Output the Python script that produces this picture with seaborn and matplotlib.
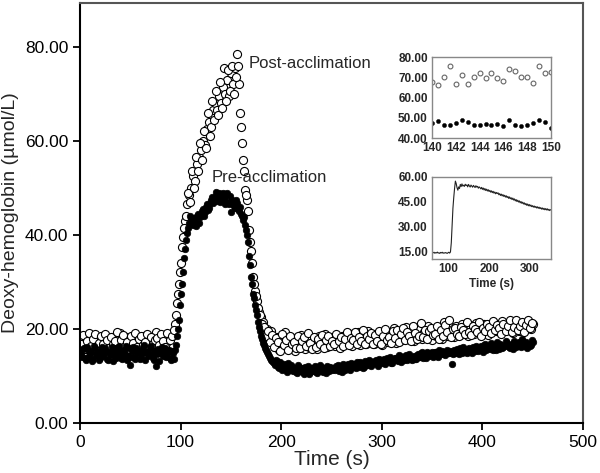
import numpy as np
import pandas as pd
import matplotlib
matplotlib.use("Agg")
import matplotlib.pyplot as plt
import seaborn as sns
from matplotlib.ticker import FormatStrFormatter

# tempo (s): segundos pares e impares
tempo_par = np.arange(0, 452, 2)
tempo_impar = np.arange(1, 451, 2)

# pos-aclimatacao (circulos abertos), segundos pares
pos_par = [
    18.5, 17.2, 16.4, 18.1, 17.6, 16.0, 18.8, 17.0, 16.6, 18.3,
    17.4, 16.2, 17.9, 18.4, 16.8, 17.3, 15.8, 18.0, 17.1, 16.5,
    19.1, 17.6, 16.3, 18.2, 17.0, 16.7, 18.5, 17.3, 16.1, 18.0,
    17.5, 16.6, 18.4, 17.2, 15.9, 17.8, 17.0, 18.6, 19.3, 16.9,
    17.7, 16.4, 18.3, 17.1, 17.9, 18.2, 19.0,
    21.0, 25.5, 29.5, 34.0, 39.5, 43.0, 46.5, 48.5, 50.0, 52.5,
    51.5, 55.0, 56.5, 58.0, 60.0, 59.0, 62.5, 64.0, 63.0, 66.5,
    68.0, 66.5, 69.5, 68.0, 71.5, 70.0, 73.0, 69.5, 74.5, 72.0,
    75.5, 78.5, 72.0, 63.0, 56.0, 49.5, 47.5, 41.0, 36.5, 31.0,
    28.0, 26.0, 23.5, 22.5, 21.5, 19.5, 20.0, 18.0, 19.5,
    17.0, 16.2, 18.3, 15.6, 17.4, 16.8, 19.4, 15.9, 17.2, 16.5,
    18.1, 15.4, 17.0, 16.3, 18.8, 16.9, 15.8, 17.6, 16.1, 18.0,
    16.6, 17.5, 15.7, 18.4, 16.8, 17.2, 19.0, 16.2, 17.8, 16.9,
    18.2, 16.4, 17.3, 15.9, 18.6, 17.1, 16.7, 19.2, 17.4, 16.3,
    18.0, 17.2, 19.3, 16.5, 17.9, 18.4, 16.9, 19.5, 17.5, 18.1,
    16.8, 19.0, 17.8, 18.6, 16.6, 18.2, 19.4, 17.3, 18.9, 17.7,
    20.3, 17.0, 18.5, 19.2, 17.6, 18.8, 20.5, 17.9, 18.3, 19.6,
    17.4, 19.1, 18.7, 20.1, 17.8, 19.4, 18.2, 20.6, 18.9, 17.6,
    19.8, 18.4, 20.2, 19.0, 17.9, 21.5, 19.3, 18.6, 20.4, 19.1,
    18.2, 20.7, 19.5, 18.8, 21.0, 19.2, 20.3, 18.5, 20.9, 19.6,
    18.9, 21.3, 19.8, 20.5, 19.0, 21.1, 20.2, 18.8, 20.6, 19.9,
    21.2, 19.5, 20.8, 19.3, 21.6, 20.1, 19.7, 21.0, 20.4, 19.2,
    21.4, 20.0, 19.6, 21.1, 20.5, 19.8, 21.3, 20.2, 19.9, 21.0,
]

# pos-aclimatacao, segundos impares
pos_impar = [
    16.9, 18.7, 15.8, 17.5, 19.2, 16.3, 17.8, 18.9, 15.6, 17.1,
    18.4, 16.7, 19.0, 17.7, 15.9, 18.2, 16.8, 17.4, 19.4, 16.0,
    17.6, 18.8, 16.4, 17.3, 15.7, 18.6, 17.0, 19.1, 16.2, 17.9,
    18.5, 16.5, 17.2, 19.0, 15.8, 18.3, 16.9, 17.7, 18.1, 16.6,
    18.9, 17.4, 16.1, 19.2, 17.6, 18.4, 19.8,
    23.0, 27.5, 32.0, 37.5, 41.5, 44.0, 49.0, 47.0, 53.5, 50.0,
    56.5, 53.5, 59.5, 56.0, 62.0, 58.5, 66.0, 61.0, 68.5, 64.5,
    70.5, 65.5, 72.5, 67.0, 75.5, 68.5, 75.0, 70.5, 76.0, 70.0,
    73.5, 76.0, 66.0, 59.5, 53.5, 48.5, 45.0, 38.5, 34.0, 29.5,
    27.0, 24.5, 23.0, 21.0, 20.5, 18.5, 19.5, 17.2, 18.8,
    16.1, 18.0, 17.2, 15.3, 18.9, 16.6, 17.7, 15.5, 18.4, 16.9,
    17.3, 16.0, 18.6, 15.9, 17.5, 18.2, 16.4, 19.1, 17.0, 15.8,
    18.3, 16.2, 17.9, 16.7, 18.7, 15.9, 17.6, 18.5, 16.3, 17.4,
    16.8, 19.0, 17.5, 18.3, 16.4, 17.8, 19.3, 16.6, 18.1, 17.6,
    19.4, 16.9, 18.2, 17.4, 19.8, 16.7, 18.5, 17.8, 19.1, 16.8,
    18.7, 17.5, 19.6, 16.9, 18.4, 19.9, 17.6, 18.2, 17.1, 19.5,
    18.1, 19.7, 17.3, 18.9, 20.2, 17.7, 19.3, 18.4, 17.5, 20.6,
    19.2, 17.9, 18.6, 21.2, 18.3, 19.8, 17.8, 19.5, 20.3, 18.7,
    18.9, 20.6, 17.8, 19.7, 18.5, 20.8, 19.4, 21.8, 18.2, 19.9,
    20.1, 19.0, 18.4, 20.5, 19.7, 18.9, 21.4, 19.3, 18.7, 20.6,
    20.0, 19.4, 21.5, 18.6, 20.3, 19.6, 21.0, 20.4, 19.2, 21.7,
    19.8, 20.9, 20.2, 18.9, 21.1, 19.6, 20.7, 21.9, 19.4, 20.5,
    22.0, 19.8, 20.6, 21.5, 19.3, 20.9, 21.8, 20.1, 21.2,
]

# pre-aclimatacao (circulos cheios), segundos pares
pre_par = [
    15.2, 14.1, 16.0, 13.5, 15.6, 14.8, 13.2, 16.3, 14.5, 15.1,
    13.8, 16.1, 14.9, 15.4, 13.3, 14.7, 16.2, 15.0, 13.9, 15.8,
    14.4, 13.6, 15.5, 16.4, 14.2, 12.3, 15.3, 14.0, 16.0, 15.1,
    13.7, 14.9, 16.5, 15.2, 14.3, 15.9, 14.6, 13.4, 12.1, 15.7,
    14.8, 16.2, 15.0, 14.1, 15.6, 13.5, 14.9,
    15.5, 18.5, 22.0, 27.5, 32.0, 37.0, 40.5, 42.5, 43.5, 42.0,
    43.0, 44.0, 42.5, 44.5, 45.5, 44.8, 46.5, 45.8, 47.5, 46.8,
    48.0, 47.2, 48.8, 47.6, 48.9, 46.6, 48.9, 46.6, 44.8, 46.5,
    45.8, 46.8, 45.0, 44.5, 43.2, 42.0, 40.0, 35.5, 31.0, 27.5,
    25.0, 23.0, 20.5, 18.5, 17.0, 16.0, 15.0, 14.2, 13.5,
    13.0, 12.4, 13.2, 11.8, 12.6, 11.5, 12.2, 10.9, 11.8, 12.3,
    11.0, 11.7, 10.6, 11.9, 11.2, 10.8, 12.0, 11.4, 10.5, 11.6,
    11.1, 12.1, 10.7, 11.5, 11.9, 10.9, 11.3, 12.2, 11.0, 11.6,
    11.8, 11.2, 12.4, 11.5, 10.9, 12.0, 11.7, 12.5, 11.3, 12.1,
    12.6, 11.8, 12.2, 13.0, 12.4, 11.9, 12.8, 12.3, 13.2, 12.5,
    12.9, 13.4, 12.2, 13.1, 12.7, 13.6, 12.9, 13.3, 14.0, 12.8,
    13.5, 13.9, 13.1, 14.2, 13.6, 13.3, 14.4, 13.8, 14.1, 13.4,
    14.3, 13.7, 14.6, 14.0, 15.0, 14.2, 13.9, 14.8, 14.4, 15.1,
    14.5, 15.2, 14.1, 14.9, 15.4, 14.6, 15.0, 14.8, 15.3, 12.5,
    15.5, 14.8, 15.2, 16.0, 14.9, 15.6, 15.1, 15.8, 15.3, 14.9,
    15.9, 16.3, 15.4, 16.1, 15.7, 16.5, 15.5, 16.2, 15.8, 16.6,
    16.0, 15.6, 16.4, 16.8, 15.9, 16.3, 17.0, 16.1, 16.6, 15.8,
    16.9, 16.4, 17.2, 16.2, 16.7, 17.1, 15.9, 16.8, 16.5, 17.3,
]

# pre-aclimatacao, segundos impares
pre_impar = [
    14.6, 15.7, 13.9, 16.1, 14.2, 15.3, 13.6, 15.9, 14.7, 13.4,
    15.5, 14.3, 16.0, 13.7, 15.2, 14.5, 13.1, 15.8, 14.9, 16.3,
    13.8, 15.1, 14.6, 13.3, 15.9, 14.1, 16.2, 13.6, 14.8, 15.4,
    14.0, 16.1, 13.5, 15.0, 14.4, 16.4, 13.8, 15.3, 14.7, 13.2,
    15.8, 14.3, 16.0, 14.8, 13.9, 15.4, 13.7,
    16.5, 20.0, 25.0, 29.5, 35.0, 39.0, 41.5, 44.0, 42.5, 43.5,
    41.8, 44.5, 43.8, 45.0, 44.0, 46.0, 45.2, 46.8, 48.0, 47.3,
    49.2, 48.5, 47.0, 48.6, 47.7, 48.5, 46.9, 48.2, 47.4, 46.2,
    47.5, 45.5, 46.0, 44.0, 43.8, 41.0, 38.5, 33.5, 29.5, 26.5,
    24.0, 21.5, 19.5, 17.8, 16.5, 15.5, 14.6, 13.8, 13.2,
    12.7, 13.3, 12.0, 12.9, 11.3, 12.5, 11.6, 12.8, 11.2, 11.9,
    11.5, 10.9, 12.3, 11.1, 11.8, 10.4, 11.6, 12.1, 10.9, 11.3,
    11.7, 10.8, 11.4, 12.3, 11.0, 11.8, 10.6, 11.5, 12.0, 11.2,
    11.4, 12.2, 11.0, 11.9, 12.6, 11.3, 12.3, 11.6, 12.8, 11.9,
    12.3, 13.0, 12.0, 12.7, 11.8, 13.1, 12.5, 13.4, 12.2, 12.9,
    13.2, 12.5, 13.7, 12.9, 13.4, 12.6, 13.9, 13.1, 12.7, 13.6,
    13.9, 13.3, 14.5, 13.0, 13.8, 14.2, 13.5, 14.6, 13.7, 14.0,
    13.6, 14.5, 14.1, 14.9, 13.8, 14.6, 15.2, 14.3, 14.7, 14.0,
    15.0, 14.3, 15.5, 14.7, 15.1, 14.4, 15.6, 14.9, 15.2, 14.6,
    15.0, 15.7, 14.6, 15.4, 16.1, 15.2, 14.8, 15.9, 15.5, 16.2,
    15.4, 16.0, 15.7, 16.4, 15.1, 16.8, 15.9, 16.3, 17.1, 15.6,
    16.5, 17.2, 15.8, 16.6, 16.1, 17.4, 16.3, 15.9, 16.9, 17.5,
    16.2, 17.0, 16.6, 17.8, 16.4, 17.2, 16.9, 16.3, 17.6,
]

# detalhe 140-150 s (inset de cima)
tempo_zoom = np.arange(140, 150.01, 0.5)
pos_zoom = [67.5, 66.2, 70.3, 75.7, 66.8, 71.0, 66.7, 70.0, 72.0, 69.8, 72.0,
            69.5, 68.3, 73.9, 72.9, 70.1, 70.1, 67.0, 75.7, 72.0, 72.7]
pre_zoom = [47.6, 48.6, 46.4, 46.4, 47.6, 48.9, 47.7, 46.6, 46.6, 47.0, 46.6,
            46.8, 45.9, 48.9, 46.4, 45.9, 46.6, 47.6, 48.8, 47.7, 44.8]

# curva do inset de baixo
tempo_curva = np.arange(60, 352, 2)
curva = [
    14.2, 13.8, 14.0, 14.3, 13.7, 14.1, 13.9, 14.4, 13.8, 14.0,
    13.6, 14.2, 13.9, 14.3, 13.7, 14.0, 13.8, 14.1, 13.9, 13.6,
    14.0, 14.3, 13.8, 14.5, 20.0, 30.5, 41.0, 47.5, 53.0, 57.5,
    56.0, 53.5, 52.0, 54.0, 53.0, 55.5, 54.2, 55.8, 54.5, 55.0,
    54.3, 55.6, 54.8, 55.2, 54.0, 55.5, 54.6, 53.9, 55.1, 54.4,
    53.8, 54.9, 54.2, 53.6, 54.7, 53.9, 54.3, 53.2, 54.0, 53.5,
    52.8, 53.7, 52.5, 53.3, 52.1, 53.0, 51.8, 52.6, 51.5, 52.3,
    51.2, 51.9, 50.8, 51.6, 50.5, 51.3, 50.2, 50.9, 49.8, 50.6,
    49.9, 50.4, 49.2, 49.9, 48.8, 49.6, 48.5, 49.3, 48.2, 48.9,
    47.8, 48.6, 47.5, 48.2, 47.0, 47.9, 46.8, 47.4, 46.3, 47.2,
    46.0, 46.7, 45.5, 46.3, 45.1, 45.9, 44.8, 45.5, 44.3, 45.1,
    44.0, 44.7, 43.6, 44.3, 43.2, 43.9, 42.8, 43.6, 42.5, 43.3,
    42.3, 43.0, 42.0, 42.6, 41.7, 42.4, 41.5, 42.1, 41.2, 41.9,
    41.0, 41.7, 40.8, 41.4, 40.5, 41.2, 40.3, 41.0, 40.1, 40.8,
    40.0, 40.7, 39.8, 40.4, 39.6, 40.2,
]

# juntando pares e impares
df_pos = pd.DataFrame({'tempo': np.concatenate([tempo_par, tempo_impar]),
                       'valor': pos_par + pos_impar})
df_pre = pd.DataFrame({'tempo': np.concatenate([tempo_par, tempo_impar]),
                       'valor': pre_par + pre_impar})

sns.set_style("ticks")
plt.rcParams['font.family'] = ['Liberation Sans', 'DejaVu Sans']

fig = plt.figure(figsize=(6, 4.73), dpi=100)
ax = fig.add_axes([0.1333, 0.1057, 0.8383, 0.888])

# grafico principal
sns.scatterplot(data=df_pos, x='tempo', y='valor', ax=ax, marker='o', s=34,
                facecolor='white', edgecolor='black', linewidth=0.8, zorder=2)
sns.scatterplot(data=df_pre, x='tempo', y='valor', ax=ax, marker='o', s=22,
                color='black', edgecolor='black', linewidth=0.5, zorder=3)

ax.set_xlim(0, 500)
ax.set_ylim(0, 89.3)
ax.set_xticks([0, 100, 200, 300, 400, 500])
ax.set_yticks([0, 20, 40, 60, 80])
ax.yaxis.set_major_formatter(FormatStrFormatter('%.2f'))
ax.tick_params(direction='out', length=5, width=1.3, labelsize=12.5, colors='black')
for lado in ['left', 'bottom']:
    ax.spines[lado].set_color('black')
    ax.spines[lado].set_linewidth(1.5)
for lado in ['top', 'right']:
    ax.spines[lado].set_visible(True)
    ax.spines[lado].set_color('#555555')
    ax.spines[lado].set_linewidth(1.5)
ax.set_xlabel('Time (s)', fontsize=15, labelpad=0)
ax.set_ylabel('Deoxy-hemoglobin (µmol/L)', fontsize=14, labelpad=4)

ax.text(168, 76.4, 'Post-acclimation', fontsize=12, va='center', ha='left')
ax.text(131, 52.3, 'Pre-acclimation', fontsize=12, va='center', ha='left')

# inset de cima: 140-150 s
ax1 = fig.add_axes([0.72, 0.7082, 0.1983, 0.1712])
sns.scatterplot(x=tempo_zoom, y=pos_zoom, ax=ax1, marker='o', s=12,
                facecolor='white', edgecolor='#666666', linewidth=0.8)
sns.scatterplot(x=tempo_zoom, y=pre_zoom, ax=ax1, marker='o', s=9,
                color='black', edgecolor='black', linewidth=0.3)
ax1.set_xlim(140, 150)
ax1.set_ylim(40, 80)
ax1.set_xticks([140, 142, 144, 146, 148, 150])
ax1.set_yticks([40, 50, 60, 70, 80])
ax1.yaxis.set_major_formatter(FormatStrFormatter('%.2f'))

# inset de baixo: curva completa
ax2 = fig.add_axes([0.72, 0.4524, 0.1983, 0.1734])
sns.lineplot(x=tempo_curva, y=curva, ax=ax2, color='#222222', linewidth=0.8)
ax2.set_xlim(61, 351)
ax2.set_ylim(10.2, 60)
ax2.set_xticks([100, 200, 300])
ax2.set_yticks([15, 30, 45, 60])
ax2.yaxis.set_major_formatter(FormatStrFormatter('%.2f'))
ax2.set_xlabel('Time (s)', fontsize=8.5, fontweight='bold', labelpad=2)

for a in [ax1, ax2]:
    for lado in a.spines:
        a.spines[lado].set_visible(True)
        a.spines[lado].set_color('#888888')
        a.spines[lado].set_linewidth(1.0)
    a.tick_params(length=0, pad=3, labelsize=8.5)
    for lbl in a.get_xticklabels() + a.get_yticklabels():
        lbl.set_fontweight('bold')

fig.savefig('out.png', dpi=100)
